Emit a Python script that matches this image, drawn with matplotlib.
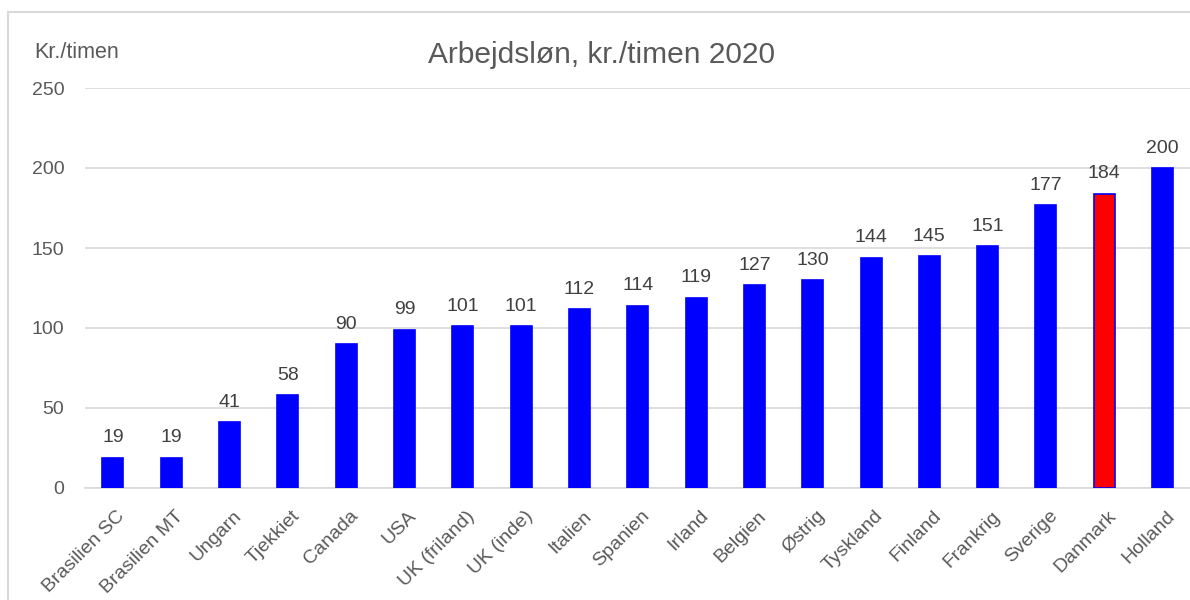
import matplotlib
matplotlib.use("Agg")
import matplotlib.pyplot as plt
from matplotlib.patches import Rectangle
from matplotlib.transforms import ScaledTranslation

countries = ["Brasilien SC", "Brasilien MT", "Ungarn", "Tjekkiet", "Canada", "USA",
             "UK (friland)", "UK (inde)", "Italien", "Spanien", "Irland", "Belgien",
             "Østrig", "Tyskland", "Finland", "Frankrig", "Sverige", "Danmark", "Holland"]
values = [19, 19, 41, 58, 90, 99, 101, 101, 112, 114, 119, 127, 130, 144, 145, 151, 177, 184, 200]
yticks = [0, 50, 100, 150, 200, 250]
highlight = "Danmark"

plt.rcParams['font.family'] = ['Liberation Sans', 'DejaVu Sans']
TXT = '#595959'

fig = plt.figure(figsize=(11.9, 6), dpi=100)
fig.patches.append(Rectangle((8/1190, -0.1), 1.2, 1 - 12/600 + 0.1, transform=fig.transFigure,
                             fill=False, edgecolor='#d9d9d9', linewidth=1.5, zorder=0))
ax = fig.add_axes([85/1190, 1 - 488/600, 1 - 85/1190, 400/600])

x = list(range(len(countries)))
colors = ['#ff0000' if c == highlight else '#0000ff' for c in countries]
bars = ax.bar(x, values, width=0.36, color=colors, edgecolor='#0000ff', linewidth=1.2, zorder=3)
for xi, v in zip(x, values):
    ax.annotate(str(v), (xi, v), xytext=(0, 8), textcoords='offset points',
                ha='center', va='bottom', fontsize=14, color='#404040')

ax.set_ylim(0, 250)
ax.set_xlim(-0.48, 18.47)
ax.set_yticks(yticks)
ax.yaxis.grid(True, color='#d9d9d9', linewidth=1.2, zorder=0)
ax.set_axisbelow(True)
for s in ['top', 'right', 'left']:
    ax.spines[s].set_visible(False)
ax.spines['bottom'].set_color('#d9d9d9')
ax.spines['bottom'].set_linewidth(1.2)
ax.tick_params(axis='y', length=0, pad=15, labelsize=14, labelcolor=TXT)
ax.tick_params(axis='x', length=0, pad=14, labelsize=14, labelcolor=TXT)
ax.set_xticks(x)
ax.set_xticklabels(countries, rotation=45, ha='right', va='top', rotation_mode='anchor')
off = ScaledTranslation(2.5/72, 0, fig.dpi_scale_trans)
for lbl in ax.get_xticklabels():
    lbl.set_transform(lbl.get_transform() + off)

fig.text(602/1190, 1 - 55/600, "Arbejdsløn, kr./timen 2020", ha='center', va='center',
         fontsize=21.5, color=TXT)
fig.text(34/1190, 1 - 52/600, "Kr./timen", ha='left', va='center', fontsize=15.5, color=TXT)

fig.savefig("out.png", dpi=100)
